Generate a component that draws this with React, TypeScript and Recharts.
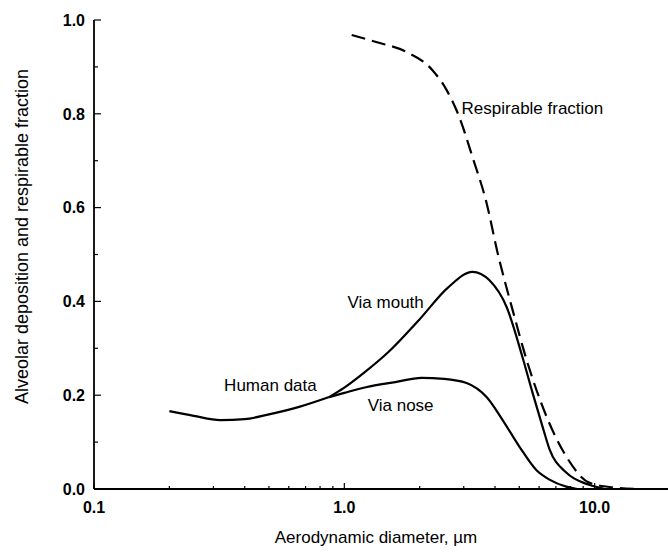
import { LineChart, Line, XAxis, YAxis, ReferenceDot } from "recharts";

// aerodynamic diameter (µm) and fraction
const humanD = [0.2, 0.25, 0.32, 0.4, 0.49, 0.66, 0.87];
const humanV = [0.166, 0.156, 0.147, 0.149, 0.158, 0.175, 0.196];

const noseD = [0.87, 1.0, 1.22, 1.6, 2.03, 2.5, 3.08, 3.7, 4.29, 5.01, 5.86, 6.6, 7.7, 8.5];
const noseV = [0.196, 0.205, 0.217, 0.228, 0.237, 0.235, 0.226, 0.196, 0.147, 0.09, 0.04, 0.02, 0.005, 0];

const mouthD = [0.87, 1.0, 1.2, 1.5, 2.0, 2.6, 3.25, 3.8, 4.45, 5.15, 5.65, 6.2, 6.6, 7.7, 9.5, 11];
const mouthV = [0.196, 0.216, 0.248, 0.292, 0.362, 0.43, 0.463, 0.445, 0.388, 0.281, 0.205, 0.132, 0.085, 0.035, 0.009, 0];

const respD = [1.07, 1.34, 1.77, 2.25, 2.56, 2.88, 3.25, 3.7, 4.09, 4.7, 5.35, 6.43, 7.73, 9.55, 12, 15];
const respV = [0.968, 0.953, 0.932, 0.893, 0.851, 0.793, 0.708, 0.61, 0.505, 0.382, 0.275, 0.154, 0.068, 0.013, 0.003, 0];

const xTicks = [0.1, 0.2, 0.3, 0.4, 0.5, 0.6, 0.7, 0.8, 0.9, 1, 2, 3, 4, 5, 6, 7, 8, 9, 10, 20];
const xMajor = [0.1, 1, 10];
const xTickLabels = ["0.1", "1.0", "10.0"];
const yTicks = [0, 0.1, 0.2, 0.3, 0.4, 0.5, 0.6, 0.7, 0.8, 0.9, 1.0];

const notes = [
  { d: 2.94, v: 0.812, text: "Respirable fraction" },
  { d: 1.03, v: 0.399, text: "Via mouth" },
  { d: 0.331, v: 0.222, text: "Human data" },
  { d: 1.24, v: 0.179, text: "Via nose" },
];

const zip = (ds: number[], vs: number[]) => ds.map((d, i) => ({ d, v: vs[i] }));
const human = zip(humanD, humanV);
const nose = zip(noseD, noseV);
const mouth = zip(mouthD, mouthV);
const resp = zip(respD, respV);

const FONT = "'Liberation Sans', Arial, sans-serif";
const XMARGIN = 13;
const YMARGIN = 9;

const XTick = (props: any) => {
  const { x, y, payload } = props;
  const i = xMajor.findIndex((m) => Math.abs(m - payload.value) < 1e-9);
  const axisY = y - XMARGIN;
  return (
    <g>
      <line x1={x} x2={x} y1={axisY} y2={axisY - (i >= 0 ? 6 : 3)} stroke="#000" strokeWidth={1.2} />
      {i >= 0 && (
        <text x={x} y={y} dy="0.71em" textAnchor="middle" fontFamily={FONT} fontSize={16} fontWeight="bold" fill="#000">
          {xTickLabels[i]}
        </text>
      )}
    </g>
  );
};

const YTick = (props: any) => {
  const { x, y, payload } = props;
  const major = Math.round(payload.value * 10) % 2 === 0;
  const axisX = x + YMARGIN;
  return (
    <g>
      <line x1={axisX} x2={axisX + (major ? 7 : 4)} y1={y} y2={y} stroke="#000" strokeWidth={1.2} />
      {major && (
        <text x={x} y={y} dy="0.36em" textAnchor="end" fontFamily={FONT} fontSize={16} fontWeight="bold" fill="#000">
          {payload.value.toFixed(1)}
        </text>
      )}
    </g>
  );
};

const YTitle = (props: any) => {
  const { viewBox } = props;
  const cx = viewBox.x + 22;
  const cy = viewBox.y + viewBox.height / 2 - 18;
  return (
    <text x={cx} y={cy} dy="0.36em" transform={`rotate(-90, ${cx}, ${cy})`} textAnchor="middle" fontFamily={FONT} fontSize={18} fill="#000">
      Alveolar deposition and respirable fraction
    </text>
  );
};

export default function App() {
  return (
    <div style={{ position: "absolute", left: 0, top: 0, width: 668, height: 552, overflow: "hidden", background: "#fff" }}>
      <LineChart width={672} height={552} margin={{ top: 20, right: 2, left: 0, bottom: 0 }}>
        <XAxis
          dataKey="d"
          type="number"
          scale="log"
          domain={[0.1, 20]}
          allowDataOverflow
          ticks={xTicks}
          interval={0}
          tick={<XTick />}
          tickLine={false}
          tickSize={0}
          tickMargin={XMARGIN}
          height={63}
          axisLine={{ stroke: "#000", strokeWidth: 1.8 }}
          label={{
            value: "Aerodynamic diameter, µm",
            position: "insideBottom",
            offset: 9,
            dx: -6,
            style: { fontFamily: FONT, fontSize: 17, fill: "#000" },
          }}
        />
        <YAxis
          type="number"
          domain={[0, 1]}
          ticks={yTicks}
          interval={0}
          tick={<YTick />}
          tickLine={false}
          tickSize={0}
          tickMargin={YMARGIN}
          width={94}
          axisLine={{ stroke: "#000", strokeWidth: 1.8 }}
          label={{ content: <YTitle /> }}
        />
        <Line data={human} dataKey="v" type="monotone" stroke="#000" strokeWidth={2.2} dot={false} isAnimationActive={false} />
        <Line data={nose} dataKey="v" type="monotone" stroke="#000" strokeWidth={2.2} dot={false} isAnimationActive={false} />
        <Line data={mouth} dataKey="v" type="monotone" stroke="#000" strokeWidth={2.2} dot={false} isAnimationActive={false} />
        <Line data={resp} dataKey="v" type="monotone" stroke="#000" strokeWidth={2.2} strokeDasharray="14 7" dot={false} isAnimationActive={false} />
        {notes.map((n) => (
          <ReferenceDot
            key={n.text}
            x={n.d}
            y={n.v}
            r={0}
            fill="none"
            stroke="none"
            ifOverflow="visible"
            label={{ value: n.text, position: "right", offset: 0, style: { fontFamily: FONT, fontSize: 17, fill: "#000" } }}
          />
        ))}
      </LineChart>
    </div>
  );
}
